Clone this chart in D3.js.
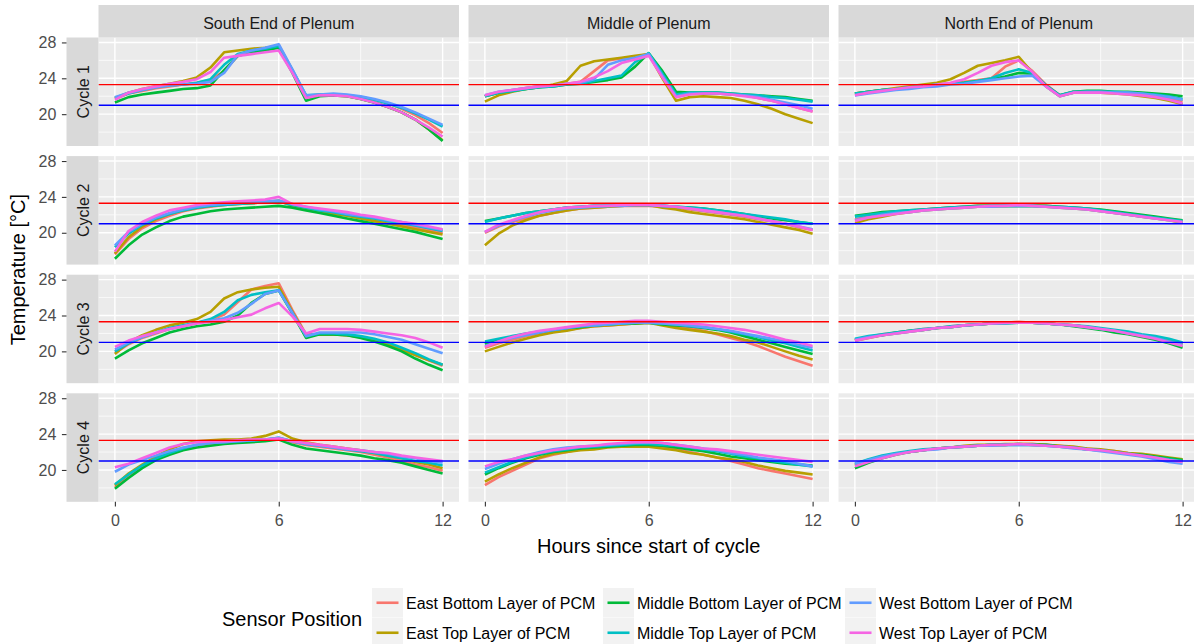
<!DOCTYPE html>
<html>
<head>
<meta charset="utf-8">
<script src="https://cdn.jsdelivr.net/npm/d3@7"></script>
<style>
  html, body { margin: 0; padding: 0; background: #ffffff; }
  svg { display: block; font-family: "Liberation Sans", Arial, sans-serif; }
</style>
</head>
<body>
<svg id="chart" width="1194" height="644"></svg>
<script>
// ---- data -------------------------------------------------------------
const hours = [0, 0.5, 1, 1.5, 2, 2.5, 3, 3.5, 4, 4.5, 5, 5.5, 6, 6.5, 7, 7.5, 8, 8.5, 9, 9.5, 10, 10.5, 11, 11.5, 12];

const positions = [
  "East Bottom Layer of PCM", "East Top Layer of PCM",
  "Middle Bottom Layer of PCM", "Middle Top Layer of PCM",
  "West Bottom Layer of PCM", "West Top Layer of PCM"
];
const locations = ["South End of Plenum", "Middle of Plenum", "North End of Plenum"];
const cycles = ["Cycle 1", "Cycle 2", "Cycle 3", "Cycle 4"];

const upperSetpoint = 23.3;   // red reference line
const lowerSetpoint = 21.0;   // blue reference line

const xTicks = [0, 6, 12];
const xMinor = [3, 9];
const yTicks = [20, 24, 28];
const yMinor = [18, 22, 26];

// Each panel: one temperature series per sensor position, same order as `positions`
const cycle1South = [
  [21.7, 22.3, 22.6, 22.9, 23.1, 23.3, 23.5, 23.8, 24.8, 26.5, 27.0, 27.3, 27.7, 24.9, 22.0, 22.2, 22.2, 22.1, 21.9, 21.6, 21.2, 20.6, 19.9, 19.0, 17.9],
  [21.8, 22.4, 22.8, 23.1, 23.4, 23.7, 24.1, 25.2, 26.9, 27.1, 27.3, 27.4, 27.6, 24.8, 22.0, 22.1, 22.1, 22.0, 21.7, 21.3, 20.8, 20.2, 19.4, 18.3, 17.1],
  [21.3, 21.9, 22.2, 22.4, 22.6, 22.8, 22.9, 23.2, 24.9, 26.5, 26.9, 27.1, 27.4, 24.6, 21.5, 22.0, 22.1, 22.0, 21.7, 21.3, 20.8, 20.2, 19.4, 18.3, 17.0],
  [21.8, 22.3, 22.7, 23.0, 23.2, 23.3, 23.5, 23.9, 25.5, 26.7, 27.1, 27.3, 27.6, 24.9, 22.1, 22.2, 22.2, 22.1, 21.9, 21.6, 21.2, 20.7, 20.1, 19.4, 18.6],
  [21.9, 22.4, 22.7, 23.0, 23.2, 23.3, 23.4, 23.6, 24.6, 26.6, 27.1, 27.4, 27.8, 25.0, 22.1, 22.2, 22.3, 22.2, 22.0, 21.7, 21.3, 20.8, 20.2, 19.5, 18.8],
  [21.6, 22.4, 22.8, 23.1, 23.4, 23.6, 23.9, 24.7, 26.3, 26.5, 26.7, 26.9, 27.1, 24.6, 21.8, 22.1, 22.1, 22.0, 21.7, 21.3, 20.8, 20.2, 19.4, 18.5, 17.5]
];
const cycle1Middle = [
  [22.0, 22.4, 22.7, 22.9, 23.1, 23.2, 23.4, 23.6, 24.8, 26.0, 26.2, 26.4, 26.7, 24.2, 21.9, 22.3, 22.3, 22.3, 22.2, 22.1, 21.8, 21.5, 21.1, 20.7, 20.3],
  [21.4, 22.1, 22.5, 22.8, 23.0, 23.3, 23.7, 25.4, 25.9, 26.1, 26.3, 26.5, 26.7, 24.0, 21.5, 21.9, 22.0, 21.9, 21.8, 21.5, 21.1, 20.6, 20.0, 19.5, 19.0],
  [22.0, 22.4, 22.6, 22.8, 23.0, 23.1, 23.3, 23.4, 23.6, 23.8, 24.1, 25.3, 26.8, 24.8, 22.5, 22.4, 22.4, 22.4, 22.3, 22.2, 22.1, 22.0, 21.9, 21.7, 21.5],
  [22.0, 22.4, 22.6, 22.8, 23.0, 23.1, 23.3, 23.4, 23.7, 24.0, 24.3, 25.8, 26.8, 24.5, 22.2, 22.4, 22.4, 22.4, 22.3, 22.2, 22.1, 21.9, 21.8, 21.6, 21.4],
  [22.1, 22.5, 22.7, 22.9, 23.1, 23.2, 23.4, 23.5, 23.9, 25.5, 26.0, 26.3, 26.7, 24.3, 22.0, 22.3, 22.3, 22.3, 22.2, 22.1, 21.9, 21.6, 21.3, 21.0, 20.6],
  [22.1, 22.5, 22.7, 22.9, 23.1, 23.2, 23.4, 23.6, 24.1, 24.8, 25.7, 26.1, 26.5, 24.1, 21.9, 22.2, 22.3, 22.3, 22.2, 22.0, 21.8, 21.5, 21.1, 20.7, 20.3]
];
const cycle1North = [
  [22.3, 22.5, 22.7, 22.8, 23.0, 23.1, 23.3, 23.4, 23.6, 23.8, 24.0, 25.3, 26.0, 24.8, 23.3, 22.1, 22.5, 22.5, 22.5, 22.4, 22.4, 22.3, 22.1, 21.8, 21.4],
  [22.3, 22.5, 22.7, 22.9, 23.1, 23.3, 23.5, 23.9, 24.6, 25.4, 25.7, 26.0, 26.4, 24.6, 23.1, 22.0, 22.4, 22.4, 22.4, 22.3, 22.2, 22.0, 21.8, 21.5, 21.1],
  [22.3, 22.5, 22.7, 22.8, 23.0, 23.1, 23.3, 23.4, 23.5, 23.7, 23.9, 24.2, 24.6, 24.5, 23.2, 22.1, 22.5, 22.6, 22.6, 22.5, 22.5, 22.4, 22.3, 22.2, 22.0],
  [22.3, 22.5, 22.7, 22.8, 23.0, 23.1, 23.3, 23.4, 23.5, 23.7, 24.0, 24.6, 25.0, 24.6, 23.2, 22.1, 22.5, 22.5, 22.5, 22.5, 22.4, 22.3, 22.2, 22.0, 21.7],
  [22.1, 22.3, 22.5, 22.7, 22.8, 23.0, 23.1, 23.3, 23.4, 23.6, 23.8, 24.0, 24.2, 24.3, 23.1, 22.0, 22.4, 22.5, 22.5, 22.4, 22.4, 22.3, 22.1, 21.9, 21.6],
  [22.1, 22.4, 22.6, 22.8, 23.0, 23.1, 23.3, 23.5, 23.9, 24.6, 25.4, 25.8, 26.0, 24.7, 23.1, 22.0, 22.4, 22.4, 22.4, 22.3, 22.2, 22.1, 21.9, 21.6, 21.2]
];

const cycle2South = [
  [17.6, 19.3, 20.5, 21.3, 21.9, 22.4, 22.7, 22.9, 23.1, 23.2, 23.3, 23.4, 23.5, 23.1, 22.8, 22.5, 22.2, 22.0, 21.7, 21.5, 21.2, 20.9, 20.6, 20.3, 20.0],
  [17.7, 19.5, 20.7, 21.5, 22.1, 22.5, 22.8, 23.0, 23.1, 23.2, 23.3, 23.4, 23.6, 23.0, 22.6, 22.4, 22.1, 21.9, 21.6, 21.3, 21.0, 20.7, 20.4, 20.1, 19.8],
  [17.1, 18.6, 19.8, 20.6, 21.3, 21.8, 22.1, 22.4, 22.6, 22.7, 22.8, 22.9, 23.0, 22.8, 22.5, 22.2, 21.9, 21.6, 21.3, 21.0, 20.7, 20.4, 20.1, 19.7, 19.3],
  [18.4, 19.9, 20.9, 21.6, 22.1, 22.5, 22.8, 23.0, 23.1, 23.2, 23.3, 23.4, 23.5, 23.1, 22.8, 22.5, 22.3, 22.0, 21.8, 21.6, 21.3, 21.1, 20.8, 20.5, 20.2],
  [18.6, 20.1, 21.0, 21.7, 22.2, 22.6, 22.9, 23.1, 23.2, 23.3, 23.4, 23.5, 23.6, 23.2, 22.9, 22.6, 22.4, 22.1, 21.9, 21.7, 21.4, 21.2, 20.9, 20.6, 20.3],
  [17.9, 20.2, 21.2, 21.9, 22.5, 22.8, 23.1, 23.3, 23.4, 23.5, 23.6, 23.7, 24.0, 23.2, 22.9, 22.7, 22.5, 22.3, 22.0, 21.8, 21.5, 21.2, 21.0, 20.7, 20.4]
];
const cycle2Middle = [
  [20.0, 20.7, 21.2, 21.6, 21.9, 22.2, 22.5, 22.7, 22.8, 22.9, 23.0, 23.0, 23.0, 22.9, 22.8, 22.6, 22.4, 22.2, 22.0, 21.8, 21.5, 21.3, 21.0, 20.6, 20.3],
  [18.6, 19.9, 20.8, 21.4, 21.9, 22.2, 22.5, 22.7, 22.8, 22.9, 23.0, 23.1, 23.1, 22.8, 22.6, 22.3, 22.1, 21.9, 21.7, 21.5, 21.2, 20.9, 20.6, 20.3, 19.9],
  [21.3, 21.6, 21.9, 22.2, 22.4, 22.6, 22.8, 22.9, 23.0, 23.0, 23.1, 23.1, 23.1, 23.0, 22.9, 22.8, 22.7, 22.5, 22.3, 22.1, 21.8, 21.6, 21.4, 21.2, 21.0],
  [21.2, 21.6, 21.9, 22.2, 22.4, 22.6, 22.8, 22.9, 23.0, 23.0, 23.1, 23.1, 23.1, 23.0, 22.9, 22.8, 22.7, 22.5, 22.3, 22.1, 21.9, 21.7, 21.5, 21.2, 21.0],
  [20.1, 20.8, 21.3, 21.8, 22.2, 22.5, 22.7, 22.8, 22.9, 23.0, 23.0, 23.1, 23.1, 23.0, 22.9, 22.7, 22.5, 22.3, 22.1, 21.9, 21.6, 21.3, 21.0, 20.7, 20.4],
  [20.1, 20.9, 21.4, 21.9, 22.3, 22.6, 22.8, 22.9, 23.0, 23.0, 23.1, 23.1, 23.1, 23.0, 22.9, 22.7, 22.5, 22.3, 22.1, 21.9, 21.6, 21.3, 21.0, 20.7, 20.3]
];
const cycle2North = [
  [21.5, 21.8, 22.0, 22.2, 22.4, 22.6, 22.7, 22.8, 22.9, 23.0, 23.0, 23.0, 23.1, 23.1, 23.0, 22.9, 22.8, 22.7, 22.5, 22.3, 22.1, 21.9, 21.7, 21.5, 21.2],
  [21.1, 21.5, 21.8, 22.1, 22.3, 22.5, 22.6, 22.7, 22.8, 22.9, 23.0, 23.0, 23.0, 23.0, 22.9, 22.8, 22.7, 22.6, 22.4, 22.2, 22.0, 21.8, 21.6, 21.4, 21.1],
  [21.9, 22.1, 22.3, 22.4, 22.5, 22.6, 22.7, 22.8, 22.9, 23.0, 23.0, 23.0, 23.0, 23.0, 23.0, 22.9, 22.8, 22.7, 22.6, 22.4, 22.2, 22.0, 21.8, 21.6, 21.4],
  [21.8, 22.0, 22.2, 22.4, 22.5, 22.6, 22.7, 22.8, 22.9, 22.9, 23.0, 23.0, 23.0, 23.0, 22.9, 22.9, 22.8, 22.7, 22.5, 22.3, 22.1, 21.9, 21.7, 21.5, 21.3],
  [21.4, 21.7, 22.0, 22.2, 22.3, 22.5, 22.6, 22.7, 22.8, 22.9, 22.9, 23.0, 23.0, 23.0, 22.9, 22.8, 22.7, 22.6, 22.4, 22.2, 22.0, 21.8, 21.6, 21.4, 21.2],
  [21.3, 21.7, 21.9, 22.1, 22.3, 22.5, 22.6, 22.7, 22.8, 22.9, 23.0, 23.0, 23.1, 23.0, 22.9, 22.8, 22.7, 22.6, 22.4, 22.2, 22.0, 21.8, 21.6, 21.4, 21.2]
];

const cycle3South = [
  [19.8, 20.8, 21.5, 22.0, 22.5, 22.8, 23.2, 23.5, 24.1, 25.5, 26.9, 27.3, 27.6, 24.6, 21.9, 21.9, 21.9, 21.8, 21.6, 21.2, 20.8, 20.2, 19.6, 19.0, 18.4],
  [19.7, 21.0, 21.8, 22.4, 22.9, 23.2, 23.6, 24.4, 25.9, 26.6, 26.9, 27.1, 27.2, 24.4, 21.8, 21.9, 21.9, 21.8, 21.6, 21.2, 20.8, 20.2, 19.6, 19.0, 18.5],
  [19.2, 20.1, 20.9, 21.5, 22.1, 22.5, 22.8, 23.0, 23.3, 24.0, 25.4, 26.4, 26.8, 24.2, 21.5, 21.9, 21.9, 21.8, 21.5, 21.1, 20.6, 20.0, 19.2, 18.5, 17.9],
  [20.0, 20.9, 21.6, 22.1, 22.6, 22.9, 23.2, 23.6, 24.4, 25.7, 26.3, 26.6, 26.8, 24.3, 21.7, 22.0, 22.0, 21.9, 21.7, 21.4, 21.0, 20.4, 19.8, 19.1, 18.5],
  [20.2, 21.0, 21.6, 22.1, 22.5, 22.8, 23.2, 23.4, 23.7, 24.3, 25.3, 26.4, 26.8, 24.3, 21.7, 22.1, 22.1, 22.1, 22.1, 21.9, 21.6, 21.3, 20.8, 20.3, 19.8],
  [20.5, 21.2, 21.7, 22.1, 22.5, 22.8, 23.1, 23.3, 23.5, 23.8, 24.1, 24.8, 25.4, 23.9, 22.0, 22.5, 22.5, 22.5, 22.4, 22.2, 22.0, 21.8, 21.5, 21.0, 20.4]
];
const cycle3Middle = [
  [20.4, 20.9, 21.3, 21.7, 22.0, 22.2, 22.4, 22.6, 22.8, 22.9, 23.0, 23.1, 23.2, 23.0, 22.8, 22.6, 22.3, 21.9, 21.5, 21.1, 20.6, 20.0, 19.4, 18.9, 18.4],
  [20.0, 20.5, 21.0, 21.4, 21.8, 22.1, 22.3, 22.6, 22.8, 22.9, 23.0, 23.1, 23.2, 22.9, 22.6, 22.4, 22.2, 22.0, 21.7, 21.3, 21.0, 20.5, 20.0, 19.5, 19.1],
  [20.8, 21.3, 21.6, 21.9, 22.1, 22.4, 22.6, 22.7, 22.9, 23.0, 23.1, 23.1, 23.2, 23.0, 22.9, 22.8, 22.6, 22.4, 22.1, 21.7, 21.3, 20.9, 20.5, 20.1, 19.7],
  [21.1, 21.4, 21.7, 22.0, 22.2, 22.4, 22.6, 22.8, 22.9, 23.0, 23.1, 23.2, 23.2, 23.1, 23.0, 22.8, 22.7, 22.5, 22.2, 21.9, 21.6, 21.2, 20.9, 20.5, 20.1],
  [20.6, 21.1, 21.5, 21.8, 22.1, 22.4, 22.6, 22.8, 22.9, 23.0, 23.1, 23.2, 23.2, 23.1, 23.0, 22.9, 22.7, 22.5, 22.3, 22.0, 21.7, 21.4, 21.1, 20.7, 20.4],
  [20.5, 21.1, 21.6, 22.0, 22.3, 22.5, 22.7, 22.9, 23.1, 23.2, 23.3, 23.4, 23.4, 23.3, 23.2, 23.1, 23.0, 22.8, 22.6, 22.4, 22.1, 21.7, 21.3, 21.0, 20.6]
];
const cycle3North = [
  [21.3, 21.6, 21.9, 22.1, 22.3, 22.5, 22.6, 22.8, 22.9, 23.0, 23.1, 23.2, 23.3, 23.2, 23.1, 23.0, 22.9, 22.7, 22.5, 22.3, 22.0, 21.8, 21.5, 21.2, 20.8],
  [21.2, 21.5, 21.8, 22.0, 22.2, 22.4, 22.6, 22.7, 22.9, 23.0, 23.1, 23.2, 23.2, 23.2, 23.1, 23.0, 22.9, 22.7, 22.5, 22.3, 22.1, 21.8, 21.5, 21.2, 20.9],
  [21.3, 21.6, 21.8, 22.1, 22.3, 22.4, 22.6, 22.7, 22.9, 23.0, 23.1, 23.1, 23.2, 23.2, 23.1, 23.0, 22.8, 22.6, 22.4, 22.1, 21.9, 21.6, 21.3, 20.9, 20.4],
  [21.4, 21.7, 21.9, 22.1, 22.3, 22.5, 22.6, 22.8, 22.9, 23.0, 23.1, 23.2, 23.2, 23.2, 23.1, 23.0, 22.9, 22.8, 22.6, 22.4, 22.2, 21.9, 21.7, 21.4, 21.0],
  [21.3, 21.6, 21.8, 22.0, 22.2, 22.4, 22.6, 22.7, 22.9, 23.0, 23.1, 23.1, 23.2, 23.2, 23.1, 23.0, 22.9, 22.7, 22.5, 22.3, 22.0, 21.8, 21.5, 21.1, 20.7],
  [21.2, 21.5, 21.8, 22.0, 22.2, 22.4, 22.6, 22.7, 22.9, 23.0, 23.1, 23.2, 23.2, 23.2, 23.1, 23.0, 22.9, 22.7, 22.5, 22.3, 22.0, 21.7, 21.4, 21.0, 20.6]
];

const cycle4South = [
  [18.1, 19.4, 20.4, 21.2, 21.8, 22.3, 22.7, 22.9, 23.0, 23.1, 23.2, 23.3, 23.5, 23.1, 22.8, 22.6, 22.4, 22.2, 22.0, 21.7, 21.4, 21.0, 20.6, 20.3, 19.9],
  [18.3, 19.6, 20.6, 21.5, 22.3, 22.9, 23.2, 23.3, 23.4, 23.4, 23.5, 23.8, 24.3, 23.5, 23.1, 22.8, 22.6, 22.4, 22.2, 21.9, 21.6, 21.3, 20.9, 20.6, 20.2],
  [17.9, 19.1, 20.2, 21.1, 21.7, 22.2, 22.5, 22.7, 22.9, 23.0, 23.1, 23.2, 23.4, 22.8, 22.4, 22.2, 22.0, 21.8, 21.6, 21.3, 21.1, 20.8, 20.4, 20.0, 19.6],
  [18.4, 19.5, 20.5, 21.3, 21.9, 22.4, 22.8, 23.0, 23.1, 23.2, 23.3, 23.4, 23.6, 23.2, 22.9, 22.7, 22.5, 22.3, 22.1, 21.9, 21.6, 21.3, 21.0, 20.8, 20.5],
  [19.8, 20.6, 21.1, 21.6, 22.1, 22.5, 22.8, 23.0, 23.1, 23.2, 23.3, 23.4, 23.6, 23.2, 22.9, 22.7, 22.5, 22.3, 22.2, 22.0, 21.8, 21.5, 21.3, 21.0, 20.8],
  [20.3, 20.7, 21.3, 21.9, 22.5, 22.9, 23.1, 23.2, 23.2, 23.3, 23.4, 23.4, 23.5, 23.2, 23.0, 22.8, 22.6, 22.4, 22.2, 22.0, 21.9, 21.6, 21.4, 21.2, 21.0]
];
const cycle4Middle = [
  [18.3, 19.2, 19.9, 20.6, 21.3, 21.7, 22.0, 22.3, 22.5, 22.7, 22.8, 22.9, 22.9, 22.6, 22.3, 22.0, 21.7, 21.4, 21.0, 20.6, 20.2, 19.9, 19.6, 19.3, 19.0],
  [18.7, 19.5, 20.2, 20.8, 21.4, 21.8, 22.0, 22.2, 22.3, 22.5, 22.6, 22.6, 22.6, 22.4, 22.2, 21.9, 21.7, 21.4, 21.2, 20.9, 20.5, 20.2, 19.9, 19.7, 19.5],
  [19.5, 20.2, 20.8, 21.3, 21.7, 22.0, 22.2, 22.4, 22.5, 22.6, 22.7, 22.8, 22.8, 22.7, 22.5, 22.3, 22.1, 21.8, 21.5, 21.3, 21.1, 20.9, 20.7, 20.6, 20.5],
  [19.7, 20.3, 20.9, 21.4, 21.8, 22.1, 22.3, 22.5, 22.6, 22.7, 22.8, 22.9, 22.9, 22.8, 22.7, 22.5, 22.3, 22.1, 21.8, 21.5, 21.3, 21.0, 20.8, 20.6, 20.4],
  [20.1, 20.7, 21.2, 21.6, 22.0, 22.3, 22.5, 22.6, 22.7, 22.8, 22.9, 23.0, 23.1, 23.0, 22.8, 22.6, 22.4, 22.2, 21.9, 21.7, 21.4, 21.2, 21.0, 20.7, 20.4],
  [20.4, 20.9, 21.2, 21.6, 21.9, 22.2, 22.4, 22.6, 22.7, 22.9, 23.0, 23.1, 23.1, 23.0, 22.8, 22.6, 22.4, 22.3, 22.1, 21.9, 21.7, 21.5, 21.3, 21.1, 20.9]
];
const cycle4North = [
  [20.6, 21.1, 21.5, 21.8, 22.0, 22.2, 22.4, 22.5, 22.6, 22.7, 22.8, 22.8, 22.9, 22.9, 22.8, 22.7, 22.5, 22.4, 22.2, 22.1, 21.9, 21.7, 21.5, 21.3, 21.1],
  [20.5, 21.0, 21.4, 21.8, 22.0, 22.2, 22.4, 22.5, 22.7, 22.8, 22.8, 22.9, 22.9, 22.9, 22.8, 22.7, 22.6, 22.4, 22.3, 22.1, 21.9, 21.8, 21.6, 21.4, 21.2],
  [20.2, 20.8, 21.3, 21.7, 22.0, 22.2, 22.4, 22.5, 22.6, 22.7, 22.8, 22.8, 22.9, 22.8, 22.8, 22.6, 22.5, 22.3, 22.2, 22.0, 21.8, 21.7, 21.5, 21.3, 21.1],
  [20.7, 21.2, 21.6, 21.9, 22.1, 22.3, 22.4, 22.5, 22.6, 22.7, 22.8, 22.8, 22.8, 22.8, 22.7, 22.6, 22.5, 22.3, 22.2, 22.0, 21.8, 21.6, 21.4, 21.2, 21.0],
  [20.7, 21.1, 21.5, 21.8, 22.0, 22.2, 22.3, 22.5, 22.6, 22.7, 22.7, 22.8, 22.8, 22.8, 22.7, 22.6, 22.4, 22.3, 22.1, 21.9, 21.7, 21.5, 21.2, 20.9, 20.7],
  [20.4, 20.9, 21.3, 21.7, 22.0, 22.2, 22.4, 22.5, 22.6, 22.7, 22.8, 22.8, 22.9, 22.8, 22.7, 22.6, 22.5, 22.3, 22.2, 22.0, 21.8, 21.6, 21.4, 21.1, 20.9]
];

// ---- layout & style ---------------------------------------------------
const panelRows = [
  [cycle1South, cycle1Middle, cycle1North],
  [cycle2South, cycle2Middle, cycle2North],
  [cycle3South, cycle3Middle, cycle3North],
  [cycle4South, cycle4Middle, cycle4North]
];

const colors = ["#F8766D", "#B79F00", "#00BA38", "#00BFC4", "#619CFF", "#F564E3"];
const colour = d3.scaleOrdinal().domain(positions).range(colors);

const colX = [98.5, 468.5, 838.5];
const rowY = [37.5, 156.1, 274.7, 393.3];
const panelW = 360.5, panelH = 108.5;
const stripTop = 5, stripLeft = 66.5;

const x = d3.scaleLinear().domain([-0.6, 12.6]).range([0, panelW]);
const y = d3.scaleLinear().domain([16.45, 28.55]).range([panelH, 0]);

const svg = d3.select("#chart");

const line = d3.line()
  .x((d, i) => x(hours[i]))
  .y(d => y(d));

// ---- panels -----------------------------------------------------------
panelRows.forEach((row, r) => {
  row.forEach((panel, c) => {
    const g = svg.append("g").attr("transform", `translate(${colX[c]},${rowY[r]})`);

    g.append("rect")
      .attr("width", panelW).attr("height", panelH)
      .attr("fill", "#EBEBEB");

    // minor grid
    g.selectAll(".vminor").data(xMinor).join("line")
      .attr("x1", d => x(d)).attr("x2", d => x(d))
      .attr("y1", 0).attr("y2", panelH)
      .attr("stroke", "#ffffff").attr("stroke-width", 0.7);
    g.selectAll(".hminor").data(yMinor).join("line")
      .attr("x1", 0).attr("x2", panelW)
      .attr("y1", d => y(d)).attr("y2", d => y(d))
      .attr("stroke", "#ffffff").attr("stroke-width", 0.7);

    // major grid
    g.selectAll(".vmajor").data(xTicks).join("line")
      .attr("x1", d => x(d)).attr("x2", d => x(d))
      .attr("y1", 0).attr("y2", panelH)
      .attr("stroke", "#ffffff").attr("stroke-width", 1.4);
    g.selectAll(".hmajor").data(yTicks).join("line")
      .attr("x1", 0).attr("x2", panelW)
      .attr("y1", d => y(d)).attr("y2", d => y(d))
      .attr("stroke", "#ffffff").attr("stroke-width", 1.4);

    // temperature traces
    g.selectAll("path.series").data(panel).join("path")
      .attr("class", "series")
      .attr("d", d => line(d))
      .attr("fill", "none")
      .attr("stroke", (d, i) => colour(positions[i]))
      .attr("stroke-width", 2.6)
      .attr("stroke-linejoin", "round");

    // setpoint reference lines
    g.append("line")
      .attr("x1", 0).attr("x2", panelW)
      .attr("y1", y(upperSetpoint)).attr("y2", y(upperSetpoint))
      .attr("stroke", "#FF0000").attr("stroke-width", 1.4);
    g.append("line")
      .attr("x1", 0).attr("x2", panelW)
      .attr("y1", y(lowerSetpoint)).attr("y2", y(lowerSetpoint))
      .attr("stroke", "#0000FF").attr("stroke-width", 1.4);
  });
});

// ---- column strips ----------------------------------------------------
locations.forEach((name, c) => {
  svg.append("rect")
    .attr("x", colX[c]).attr("y", stripTop)
    .attr("width", panelW).attr("height", rowY[0] - stripTop)
    .attr("fill", "#D9D9D9");
  svg.append("text")
    .attr("x", colX[c] + panelW / 2).attr("y", 29.3)
    .attr("text-anchor", "middle")
    .attr("font-size", 16).attr("fill", "#1A1A1A")
    .text(name);
});

// ---- row strips + y axes ----------------------------------------------
cycles.forEach((name, r) => {
  svg.append("rect")
    .attr("x", stripLeft).attr("y", rowY[r])
    .attr("width", colX[0] - stripLeft).attr("height", panelH)
    .attr("fill", "#D9D9D9");
  svg.append("text")
    .attr("transform", `translate(89,${rowY[r] + panelH / 2}) rotate(-90)`)
    .attr("text-anchor", "middle")
    .attr("font-size", 16).attr("fill", "#1A1A1A")
    .text(name);

  const ax = svg.append("g")
    .attr("transform", `translate(${stripLeft},${rowY[r]})`)
    .call(d3.axisLeft(y).tickValues(yTicks).tickSize(4.6).tickPadding(5.5).tickSizeOuter(0));
  ax.select(".domain").remove();
  ax.selectAll(".tick line").attr("stroke", "#333333").attr("stroke-width", 1.1);
  ax.selectAll(".tick text")
    .attr("fill", "#4D4D4D").attr("font-size", 16)
    .attr("font-family", "'Liberation Sans', Arial, sans-serif");
});

// ---- x axes -----------------------------------------------------------
colX.forEach(cx => {
  const ax = svg.append("g")
    .attr("transform", `translate(${cx},${rowY[3] + panelH})`)
    .call(d3.axisBottom(x).tickValues(xTicks).tickSize(4.6).tickPadding(8.5).tickSizeOuter(0));
  ax.select(".domain").remove();
  ax.selectAll(".tick line").attr("stroke", "#333333").attr("stroke-width", 1.1);
  ax.selectAll(".tick text")
    .attr("fill", "#4D4D4D").attr("font-size", 16)
    .attr("font-family", "'Liberation Sans', Arial, sans-serif");
});

// ---- axis titles --------------------------------------------------------
svg.append("text")
  .attr("x", colX[0] + (colX[2] + panelW - colX[0]) / 2).attr("y", 552.5)
  .attr("text-anchor", "middle")
  .attr("font-size", 20).attr("fill", "#000000")
  .text("Hours since start of cycle");

svg.append("text")
  .attr("transform", `translate(24.5,${rowY[0] + (rowY[3] + panelH - rowY[0]) / 2}) rotate(-90)`)
  .attr("text-anchor", "middle")
  .attr("font-size", 20).attr("fill", "#000000")
  .text("Temperature [°C]");

// ---- legend -------------------------------------------------------------
svg.append("text")
  .attr("x", 222).attr("y", 626)
  .attr("font-size", 20).attr("fill", "#000000")
  .text("Sensor Position");

const legendColX = [372, 603, 845];
const legendRowY = [588, 618];
const keyW = 31, keyH = 29.5;

positions.forEach((p, i) => {
  const col = Math.floor(i / 2), row = i % 2;
  const lg = svg.append("g")
    .attr("transform", `translate(${legendColX[col]},${legendRowY[row]})`);
  lg.append("rect")
    .attr("width", keyW).attr("height", keyH)
    .attr("fill", "#F2F2F2");
  lg.append("line")
    .attr("x1", 4.5).attr("x2", keyW - 4.5)
    .attr("y1", keyH / 2).attr("y2", keyH / 2)
    .attr("stroke", colour(p)).attr("stroke-width", 2.6);
  lg.append("text")
    .attr("x", keyW + 3).attr("y", keyH / 2 + 5.8)
    .attr("font-size", 16).attr("fill", "#000000")
    .text(p);
});
</script>
</body>
</html>
